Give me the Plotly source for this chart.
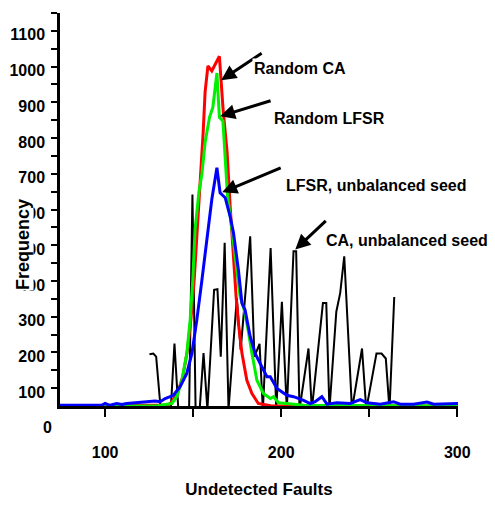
import plotly.graph_objects as go

# ---------------- data ----------------
B = 40  # zero-frequency floor (falls below the visible axis start)

red_x = [74.4, 130, 136, 137.9, 141.1, 144.1, 146.8, 148.7, 150.6, 152.3, 154, 155.7, 156.8, 158.4,
         160.6, 164.9, 167, 169.3, 171, 172.9, 174.4, 175.7, 177.7, 180.5, 183.4, 187, 194, 300.4]
red_y = [50, 51, 53, 62, 85, 132, 207, 291, 403, 541, 670, 816, 929, 1002,
         988, 1029, 881, 760, 610, 450, 356, 282, 198, 122, 85, 57, 51, 50]

green_x = [74.4, 130, 137.9, 140.7, 143.6, 146.4, 148.3, 149.8, 151.1, 153.3, 155, 156.8, 159.3, 161.2,
           163.5, 164.9, 166.9, 168.3, 169.5, 172, 174.4, 176.7, 179, 180.9, 183.4, 186.2, 189.9,
           193.8, 195.6, 198.5, 203.2, 212.7, 300.4]
green_y = [50, 51, 57, 76, 122, 197, 291, 403, 544, 650, 700, 788, 858, 886,
           982, 858, 848, 750, 640, 544, 450, 356, 319, 272, 197, 122, 85,
           71, 76, 59, 57, 52, 50]

blue_x = [74.4, 98, 100, 102.8, 106.6, 109.5, 112.3, 119.9, 123.7, 128.4, 131.3, 134.1, 136.9, 138.8,
          142.6, 146.4, 149.3, 152.1, 155, 157.8, 160.6, 163.5, 165.3, 168.2, 171, 172.9, 175.7,
          177.7, 179.5, 182.4, 185.2, 189, 191.9, 193.8, 197.6, 203.2, 207, 212.7, 216.5, 219.3,
          223.1, 226, 231.7, 239.2, 244.9, 248.7, 256.3, 263.8, 267.6, 275.2, 282.8, 286.6, 294.1, 300.4]
blue_y = [52, 52, 57, 52, 57, 54, 57, 59, 62, 64, 62, 71, 76, 80,
          104, 141, 197, 291, 403, 516, 628, 717, 647, 633, 581, 535, 431,
          338, 319, 244, 197, 160, 132, 132, 99, 80, 76, 66, 57, 62,
          76, 55, 59, 57, 68, 59, 55, 62, 55, 55, 61, 55, 55, 57]

black_x = [125.2, 127.4, 129, 131.6, 137.3, 139.4, 141.6, 147.7, 149.6, 151.4, 153.7, 155.9, 158.1,
           161.9, 163.8, 165.7, 167.9, 170.1, 174.8, 177, 182.4, 184.8, 187.7, 189.6, 194, 197.2,
           200.4, 203.2, 207, 208.5, 210.4, 215.5, 217.4, 223.7, 225.6, 227.4, 231.3, 233.5, 235.8,
           240.2, 245.9, 248.3, 254.1, 257, 259.4, 261.5, 264.2]
black_y = [195, 197, 188, B, B, 225, B, B, 642, B, B, 198, B,
           375, 377, 188, 507, B, 352, 207, 525, 188, 224, B, 492, B,
           342, B, 483, 483, B, 211, B, 338, 338, B, 314, 366, 469,
           B, 211, B, 197, 197, 183, B, 355]

y_ticks = [100, 200, 300, 400, 500, 600, 700, 800, 900, 1000, 1100]
x_ticks = [100, 150, 200, 250, 300]
x_labels = ["100", "", "200", "", "300"]

labels = ["Random CA", "Random LFSR", "LFSR, unbalanced seed", "CA, unbalanced seed"]

FONT = "Liberation Sans, Arial, sans-serif"

fig = go.Figure()
fig.add_trace(go.Scatter(x=black_x, y=black_y, mode="lines", line=dict(color="black", width=2),
                         name=labels[3], showlegend=False))
fig.add_trace(go.Scatter(x=red_x, y=red_y, mode="lines", line=dict(color="#ff0000", width=3),
                         name=labels[0], showlegend=False))
fig.add_trace(go.Scatter(x=green_x, y=green_y, mode="lines", line=dict(color="#00f000", width=3),
                         name=labels[1], showlegend=False))
fig.add_trace(go.Scatter(x=blue_x, y=blue_y, mode="lines", line=dict(color="#0000ff", width=3),
                         name=labels[2], showlegend=False))

L, R, T, Bm = 60, 37, 13, 100
W, H = 495, 506
pw, ph = W - L - R, H - T - Bm


def px(xp):
    return (xp - L) / pw


def py(yp):
    return (H - Bm - yp) / ph


ann = []
# arrows: tip in data coords, tail offset in pixels
arrows = [(165.9, 962, 42, -28), (165.3, 861, 52, -16), (166.5, 648, 60, -25), (208, 488, 32, -30)]
for (x, y, ax, ay) in arrows:
    ann.append(dict(x=x, y=y, xref="x", yref="y", ax=ax, ay=ay, text="", showarrow=True,
                    arrowhead=2, arrowsize=1.0, arrowwidth=3, arrowcolor="black"))
# texts
text_pos = [(252, 68), (272, 118), (284, 185), (324, 240)]
for t, (xp, yp) in zip(labels, text_pos):
    ann.append(dict(x=px(xp), y=py(yp), xref="paper", yref="paper", text=t, showarrow=False,
                    xanchor="left", yanchor="middle", bgcolor="white", borderpad=1,
                    font=dict(family=FONT, size=16, color="black", weight="bold")))
# y title and stray zero label
ann.append(dict(x=px(23), y=py(245), xref="paper", yref="paper", text="Frequency", showarrow=False,
                textangle=-90, xanchor="center", yanchor="middle", bgcolor="white", borderpad=0,
                font=dict(family=FONT, size=18, color="black", weight="bold")))
ann.append(dict(x=px(47), y=py(427), xref="paper", yref="paper", text="0", showarrow=False,
                xanchor="center", yanchor="middle",
                font=dict(family=FONT, size=16, color="black", weight="bold")))

fig.update_layout(
    width=W, height=H, margin=dict(l=L, r=R, t=T, b=Bm, autoexpand=False),
    paper_bgcolor="white", plot_bgcolor="white",
    font=dict(family=FONT, color="black"),
    annotations=ann,
    xaxis=dict(range=[74.4, 300.4], tickvals=x_ticks, ticktext=x_labels, ticks="outside",
               ticklen=8, tickwidth=2, tickcolor="black", showline=True, linewidth=2.5,
               linecolor="black", showgrid=False, zeroline=False, ticklabelstandoff=22,
               tickfont=dict(family=FONT, size=16, color="black", weight="bold"),
               title=dict(text="Undetected Faults", standoff=24,
                          font=dict(family=FONT, size=17, color="black", weight="bold"))),
    yaxis=dict(range=[50, 1150], tickvals=y_ticks, ticks="outside", ticklen=6, tickwidth=2,
               tickcolor="black", showline=True, linewidth=2.5, linecolor="black",
               showgrid=False, zeroline=False, ticklabelshift=4, ticklabelstandoff=3,
               minor=dict(tickvals=[150, 250, 350, 450, 550, 650, 750, 850, 950, 1050, 1150],
                          ticks="outside", ticklen=6, tickwidth=2, tickcolor="black"),
               tickfont=dict(family=FONT, size=16, color="black", weight="bold")),
)

fig.write_html("out.html")
